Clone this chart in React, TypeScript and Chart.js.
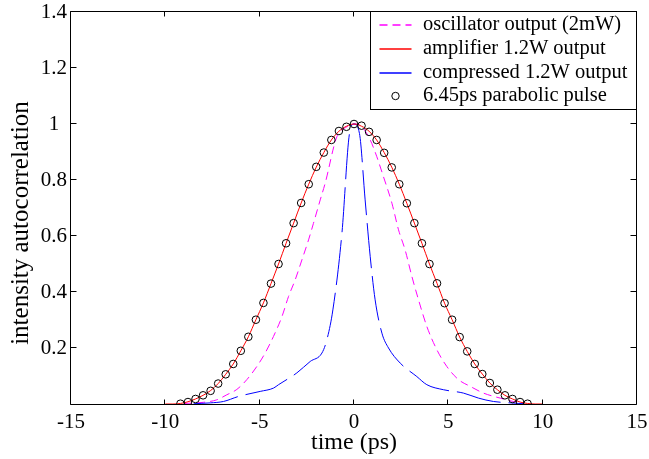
import React, { useEffect, useRef } from "react";
import { Chart, registerables } from "chart.js";

Chart.register(...registerables);

// ---------- data ----------
const xTicks = [-15, -10, -5, 0, 5, 10, 15];
const yTicks = [0.2, 0.4, 0.6, 0.8, 1, 1.2, 1.4];

const xTitle = "time (ps)";
const yTitle = "intensity autocorrelation";

const legendLabels = [
  "oscillator output (2mW)",
  "amplifier 1.2W output",
  "compressed 1.2W output",
  "6.45ps parabolic pulse",
];

const oscillatorTime = [
  -9.0, -7.98, -7.27, -6.74, -6.21, -5.68, -5.15, -4.71, -4.27, -3.82, -3.47,
  -3.12, -2.76, -2.41, -2.15, -1.79, -1.53, -0.91, -0.38, 0, 0.42, 0.86, 1.21,
  1.56, 2.01, 2.36, 2.71, 3.07, 3.42, 3.86, 4.39, 4.92, 5.54, 6.16, 6.86, 7.75,
  8.45, 9.0,
];
const oscillatorValue = [
  0.002, 0.006, 0.015, 0.033, 0.052, 0.087, 0.134, 0.182, 0.241, 0.312, 0.384,
  0.443, 0.515, 0.586, 0.645, 0.729, 0.788, 0.954, 0.99, 1.0, 0.99, 0.943,
  0.883, 0.812, 0.717, 0.622, 0.55, 0.455, 0.372, 0.277, 0.194, 0.134, 0.087,
  0.063, 0.039, 0.021, 0.009, 0.003,
];

const amplifierTime = [
  -10, -9.6, -9.2, -8.8, -8.4, -8.0, -7.6, -7.2, -6.8, -6.4, -6.0, -5.6, -5.2,
  -4.8, -4.4, -4.0, -3.6, -3.2, -2.8, -2.4, -2.0, -1.6, -1.2, -0.8, -0.4, 0,
  0.4, 0.8, 1.2, 1.6, 2.0, 2.4, 2.8, 3.2, 3.6, 4.0, 4.4, 4.8, 5.2, 5.6, 6.0,
  6.4, 6.8, 7.2, 7.6, 8.0, 8.4, 8.8, 9.2, 9.6, 10,
];
const amplifierValue = [
  0, 0, 0.002, 0.008, 0.018, 0.031, 0.048, 0.073, 0.106, 0.143, 0.19, 0.24,
  0.301, 0.361, 0.43, 0.5, 0.574, 0.646, 0.718, 0.785, 0.846, 0.898, 0.943,
  0.974, 0.992, 1.0, 0.992, 0.974, 0.943, 0.898, 0.846, 0.785, 0.717, 0.646,
  0.574, 0.5, 0.431, 0.36, 0.301, 0.239, 0.188, 0.143, 0.107, 0.075, 0.051,
  0.031, 0.018, 0.007, 0.002, 0, 0,
];

const compressedTime = [
  -8.5, -7.62, -6.92, -6.12, -4.97, -4.26, -4.0, -3.03, -2.32, -1.7, -1.44,
  -1.12, -0.64, -0.24, 0, 0.29, 0.59, 0.86, 1.12, 1.48, 1.83, 2.45, 3.33, 3.86,
  4.74, 5.8, 6.6, 7.39, 8.28, 9.0,
];
const compressedValue = [
  0.001, 0.004, 0.009, 0.027, 0.045, 0.057, 0.069, 0.111, 0.152, 0.182, 0.229,
  0.336, 0.61, 0.966, 1.0, 0.966, 0.729, 0.526, 0.372, 0.253, 0.2, 0.146,
  0.098, 0.069, 0.051, 0.039, 0.021, 0.009, 0.004, 0.001,
];

const parabolicTime = [
  -9.2, -8.8, -8.4, -8.0, -7.6, -7.2, -6.8, -6.4, -6.0, -5.6, -5.2, -4.8, -4.4,
  -4.0, -3.6, -3.2, -2.8, -2.4, -2.0, -1.6, -1.2, -0.8, -0.4, 0, 0.4, 0.8, 1.2,
  1.6, 2.0, 2.4, 2.8, 3.2, 3.6, 4.0, 4.4, 4.8, 5.2, 5.6, 6.0, 6.4, 6.8, 7.2,
  7.6, 8.0, 8.4, 8.8, 9.2,
];
const parabolicValue = [
  0.001, 0.007, 0.018, 0.031, 0.047, 0.073, 0.106, 0.143, 0.19, 0.24, 0.301,
  0.361, 0.43, 0.5, 0.574, 0.646, 0.718, 0.785, 0.847, 0.898, 0.943, 0.975,
  0.99, 1.0, 0.994, 0.972, 0.943, 0.897, 0.845, 0.785, 0.717, 0.646, 0.574,
  0.5, 0.431, 0.36, 0.301, 0.239, 0.188, 0.143, 0.107, 0.075, 0.051, 0.031,
  0.018, 0.007, 0.001,
];

const zip = (xs: number[], ys: number[]) => xs.map((x, i) => ({ x, y: ys[i] }));

const FONT = "'Liberation Serif', 'Times New Roman', serif";

const OSC_COLOR = "#ff00ff";
const AMP_COLOR = "#ff0000";
const CMP_COLOR = "#0000ff";
const OSC_DASH = [8, 5];
const CMP_DASH = [45, 8];

// legend entries in legend order: kind, colour, dash segments
const legendStyles = [
  { kind: "line", color: OSC_COLOR, dash: OSC_DASH },
  { kind: "line", color: AMP_COLOR, dash: [] as number[] },
  { kind: "line", color: CMP_COLOR, dash: [] as number[] },
  { kind: "circle", color: "#000000", dash: [] as number[] },
];

const framePlugin = {
  id: "matlabFrame",
  afterDatasetsDraw(chart: any) {
    const { ctx, chartArea, scales } = chart;
    const { left, right, top, bottom } = chartArea;
    const L = Math.round(left) - 0.5;
    const R = Math.round(right) - 0.5;
    const T = Math.round(top) - 0.5;
    const B = Math.round(bottom) + 0.5;
    ctx.save();
    ctx.strokeStyle = "#000";
    ctx.lineWidth = 1;
    ctx.setLineDash([]);
    ctx.beginPath();
    ctx.rect(L, T, R - L, B - T);
    for (const t of scales.x.ticks) {
      const px = Math.round(scales.x.getPixelForValue(t.value)) - 0.5;
      ctx.moveTo(px, B);
      ctx.lineTo(px, B - 5);
      ctx.moveTo(px, T);
      ctx.lineTo(px, T + 5);
    }
    for (const t of scales.y.ticks) {
      const py = Math.round(scales.y.getPixelForValue(t.value)) - 0.5;
      ctx.moveTo(L, py);
      ctx.lineTo(L + 6, py);
      ctx.moveTo(R, py);
      ctx.lineTo(R - 6, py);
    }
    ctx.stroke();
    ctx.restore();

    // y-axis title (placed as in the reference, a little below the axis centre)
    ctx.save();
    ctx.fillStyle = "#000";
    ctx.font = `25px ${FONT}`;
    ctx.textAlign = "center";
    ctx.textBaseline = "middle";
    ctx.translate(21, (top + bottom) / 2 + 15);
    ctx.rotate(-Math.PI / 2);
    ctx.fillText(yTitle, 0, 0);
    ctx.restore();
  },
};

const legendPlugin = {
  id: "matlabLegend",
  afterDraw(chart: any) {
    const { ctx, chartArea } = chart;
    const boxR = Math.round(chartArea.right) - 0.5;
    const boxT = Math.round(chartArea.top) - 0.5;
    const boxW = 266;
    const boxH = 98;
    const boxL = boxR - boxW;
    ctx.save();
    ctx.setLineDash([]);
    ctx.fillStyle = "#ffffff";
    ctx.fillRect(boxL, boxT, boxW, boxH);
    ctx.strokeStyle = "#000000";
    ctx.lineWidth = 1;
    ctx.strokeRect(boxL, boxT, boxW, boxH);
    legendLabels.forEach((label, i) => {
      const st = legendStyles[i];
      const cy = Math.round(boxT + 13.5 + i * 23.8);
      const x0 = boxL + 9;
      const x1 = boxL + 41;
      ctx.save();
      ctx.strokeStyle = st.color;
      ctx.lineWidth = st.kind === "circle" ? 1 : 1.4;
      ctx.setLineDash(st.dash);
      ctx.beginPath();
      if (st.kind === "circle") {
        ctx.arc((x0 + x1) / 2, cy, 3.7, 0, Math.PI * 2);
      } else {
        ctx.moveTo(x0, cy);
        ctx.lineTo(x1, cy);
      }
      ctx.stroke();
      ctx.restore();
      ctx.fillStyle = "#000000";
      ctx.font = `20.5px ${FONT}`;
      ctx.textBaseline = "middle";
      ctx.textAlign = "left";
      ctx.fillText(label, boxL + 52.5, cy);
    });
    ctx.restore();
  },
};

export default function App() {
  const canvasRef = useRef<HTMLCanvasElement | null>(null);

  useEffect(() => {
    document.body.style.margin = "0";
    const canvas = canvasRef.current;
    if (!canvas) return;
    const chart = new Chart(canvas, {
      type: "line",
      data: {
        datasets: [
          {
            label: legendLabels[3],
            data: zip(parabolicTime, parabolicValue),
            showLine: false,
            pointRadius: 3.8,
            pointBorderColor: "#000000",
            pointBackgroundColor: "rgba(0,0,0,0)",
            pointBorderWidth: 1,
            order: 0,
          },
          {
            label: legendLabels[1],
            data: zip(amplifierTime, amplifierValue),
            borderColor: AMP_COLOR,
            borderWidth: 1,
            pointRadius: 0,
            cubicInterpolationMode: "monotone",
            order: 1,
          },
          {
            label: legendLabels[2],
            data: zip(compressedTime, compressedValue),
            borderColor: CMP_COLOR,
            borderWidth: 1,
            borderDash: CMP_DASH,
            pointRadius: 0,
            cubicInterpolationMode: "monotone",
            order: 2,
          },
          {
            label: legendLabels[0],
            data: zip(oscillatorTime, oscillatorValue),
            borderColor: OSC_COLOR,
            borderWidth: 1,
            borderDash: OSC_DASH,
            pointRadius: 0,
            cubicInterpolationMode: "monotone",
            order: 3,
          },
        ] as any,
      },
      options: {
        animation: false,
        responsive: false,
        devicePixelRatio: 1,
        layout: { padding: { left: 0, right: 12, top: 12, bottom: 0 } },
        plugins: {
          legend: { display: false },
          tooltip: { enabled: false },
        },
        scales: {
          x: {
            type: "linear",
            min: -15,
            max: 15,
            afterBuildTicks: (s: any) => {
              s.ticks = xTicks.map((v) => ({ value: v }));
            },
            afterFit: (s: any) => {
              s.height = 55;
              s.paddingLeft = 0;
              s.paddingRight = 0;
            },
            grid: { display: false, drawTicks: false },
            border: { display: false },
            ticks: {
              color: "#000",
              font: { family: FONT, size: 21 },
              padding: 6,
              maxRotation: 0,
              autoSkip: false,
              callback: (v: any) => String(v),
            },
            title: {
              display: true,
              text: xTitle,
              color: "#000",
              font: { family: FONT, size: 24 },
              padding: { top: 0, bottom: 2 },
            },
          },
          y: {
            type: "linear",
            min: 0,
            max: 1.4,
            afterBuildTicks: (s: any) => {
              s.ticks = yTicks.map((v) => ({ value: v }));
            },
            afterFit: (s: any) => {
              s.width = 71;
              s.paddingTop = 0;
              s.paddingBottom = 0;
            },
            grid: { display: false, drawTicks: false },
            border: { display: false },
            ticks: {
              color: "#000",
              font: { family: FONT, size: 21 },
              padding: 4,
              crossAlign: "center",
              autoSkip: false,
              callback: (v: any) => String(v),
            },
          },
        },
      } as any,
      plugins: [framePlugin, legendPlugin],
    });
    return () => chart.destroy();
  }, []);

  return (
    <div style={{ width: 649, height: 459 }}>
      <canvas
        ref={canvasRef}
        width={649}
        height={459}
        style={{ display: "block", width: 649, height: 459 }}
      />
    </div>
  );
}
